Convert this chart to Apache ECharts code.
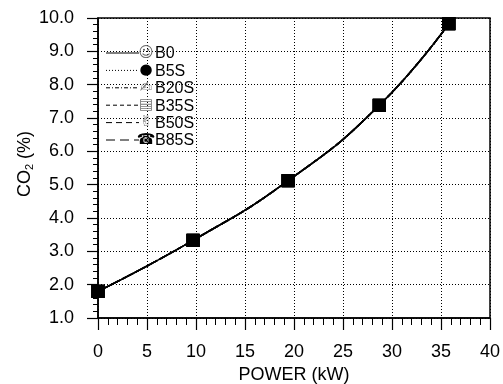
<!DOCTYPE html>
<html><head><meta charset="utf-8">
<script src="https://cdn.jsdelivr.net/npm/echarts@6/dist/echarts.min.js"></script>
<style>html,body{margin:0;padding:0;background:#fff}#c{width:503px;height:384px}</style>
</head><body><div id="c"></div>
<script>
const powerKW = [0, 9.7, 19.4, 28.7, 35.8];
const co2 = [1.8, 3.33, 5.12, 7.38, 9.83];
const seriesNames = ['B0', 'B5S', 'B20S', 'B35S', 'B50S', 'B85S'];
const legendGlyphs = ['☺', '●', '✍', '▤', '✌', '☎'];
const glyphColors = ['#666', '#000', '#777', '#777', '#777', '#000'];
const dashStyles = ['solid', [1, 2], [4, 2, 1, 2], [4, 3], [6, 4], [9, 5]];

const chart = echarts.init(document.getElementById('c'), null, {renderer: 'canvas'});
const series = seriesNames.map((n, i) => ({
  name: n, type: 'line', smooth: true,
  data: powerKW.map((x, j) => [x, co2[j]]),
  symbol: 'rect', symbolSize: 13,
  itemStyle: {color: '#000'},
  lineStyle: {color: '#000', width: 1.6, type: dashStyles[i]},
  z: 3
}));

const graphics = [];
const ly0 = 53, ldy = 17.4;
seriesNames.forEach((n, i) => {
  const y = ly0 + i * ldy;
  graphics.push({type: 'line', shape: {x1: 106, y1: y, x2: 139, y2: y},
    style: {stroke: '#000', lineWidth: 1, lineDash: dashStyles[i] === 'solid' ? null : dashStyles[i]}, z: 10});
  graphics.push({type: 'text', x: 146, y: y, style: {text: legendGlyphs[i], font: 'bold 15px "DejaVu Sans"', fill: glyphColors[i], align: 'center', verticalAlign: 'middle'}, z: 10});
  graphics.push({type: 'text', x: 155, y: y + 1, style: {text: n, font: '16px "Liberation Sans"', fill: '#000', align: 'left', verticalAlign: 'middle'}, z: 10});
});
graphics.push({type: 'text', x: 25, y: 164, rotation: Math.PI / 2,
  style: {text: '{a|CO}{s|2}{a| (%)}', align: 'center', verticalAlign: 'middle',
    rich: {a: {fontFamily: 'Liberation Sans', fontSize: 18, fill: '#000'}, s: {fontFamily: 'Liberation Sans', fontSize: 11, fill: '#000', verticalAlign: 'bottom', padding: [10, 0, 0, 0]}}}, z: 10});

chart.setOption({
  animation: false,
  backgroundColor: '#fff',
  grid: {left: 98, right: 13, top: 18, bottom: 66, show: true, borderColor: '#000', borderWidth: 1.5, containLabel: false, outerBoundsMode: 'none'},
  xAxis: {
    type: 'value', min: 0, max: 40, interval: 5,
    name: 'POWER (kW)', nameLocation: 'middle', nameGap: 47,
    nameTextStyle: {fontFamily: 'Liberation Sans', fontSize: 18, color: '#000'},
    axisLine: {show: true, lineStyle: {color: '#000', width: 1.5}},
    axisTick: {show: true, inside: false, length: 12, lineStyle: {color: '#000', width: 1.2}},
    minorTick: {show: true, splitNumber: 5, length: 7, lineStyle: {color: '#000', width: 1}},
    axisLabel: {fontFamily: 'Liberation Sans', fontSize: 18, color: '#000', margin: 25},
    splitLine: {show: true, lineStyle: {color: '#000', type: [1, 2], width: 1}}
  },
  yAxis: {
    type: 'value', min: 1, max: 10, interval: 1,
    axisLine: {show: true, lineStyle: {color: '#000', width: 1.5}},
    axisTick: {show: true, inside: false, length: 11, lineStyle: {color: '#000', width: 1.2}},
    minorTick: {show: true, splitNumber: 5, length: 5, lineStyle: {color: '#000', width: 1}},
    axisLabel: {fontFamily: 'Liberation Sans', fontSize: 18, color: '#000', margin: 24, formatter: v => v.toFixed(1)},
    splitLine: {show: true, lineStyle: {color: '#000', type: [1, 2], width: 1}}
  },
  series: series,
  graphic: graphics
});
</script></body></html>
